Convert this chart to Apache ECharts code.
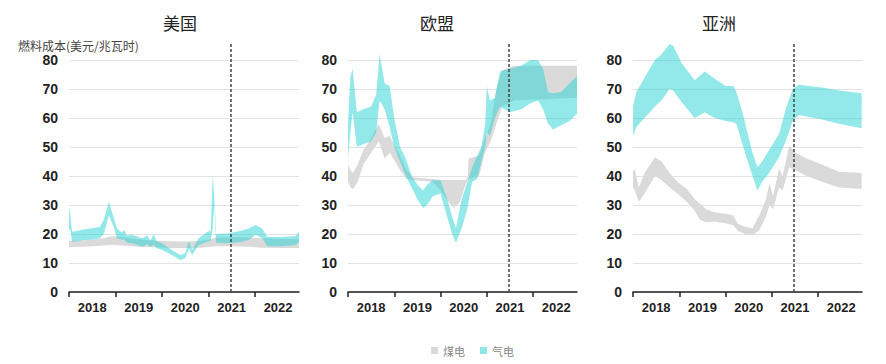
<!DOCTYPE html>
<html><head><meta charset="utf-8">
<script src="https://cdn.jsdelivr.net/npm/echarts@6/dist/echarts.min.js"></script>
<style>html,body{margin:0;padding:0;background:#fff}#c{width:886px;height:364px}</style>
</head><body><div id="c"></div>
<script>
// ---- tick labels ----
const years = ['2018', '2019', '2020', '2021', '2022'];
const yTicks = [0, 10, 20, 30, 40, 50, 60, 70, 80];
const panelTitles = ['美国', '欧盟', '亚洲'];
const seriesNames = ['煤电', '气电'];
const yAxisName = '燃料成本(美元/兆瓦时)';
const dividerMonth = 41.7; // months since Jan 2018

// ---- 美国 ----
const usCoalM  = [0, 3, 6, 9, 11, 14, 18, 22, 26, 30, 34, 36.5, 38, 42, 46, 50, 55, 59.4];
const usCoalLo = [15.5, 15.6, 15.8, 16, 16.2, 16, 15.6, 15.4, 15.2, 15.2, 15.3, 15.6, 15.8, 15.8, 15.6, 15.3, 15.2, 15.2];
const usCoalHi = [17.6, 17.8, 18, 18.6, 19.2, 19, 18.2, 17.8, 17.5, 17.4, 17.6, 18.2, 18.8, 19, 18.8, 18.5, 18.3, 18.3];
const usGasM  = [0, 0.3, 0.8, 2, 4, 6, 8, 9, 10.3, 11.5, 12.4, 13.7, 14.2, 15, 16.3, 18.9, 20.2, 21, 21.9, 22.6, 24, 26.6, 28.7, 30, 31, 31.8, 33.5, 35.7, 36.6, 37.1, 37.5, 38, 41.3, 44.7, 46.5, 48.2, 49.9, 51.2, 55, 58.5, 59.4];
const usGasLo = [21, 22, 17.3, 17.5, 17.9, 18, 18.5, 20, 26.5, 22.5, 18.5, 18, 18.2, 17, 16.8, 15.6, 16.5, 15.5, 16.3, 15.2, 14.5, 12.8, 11, 11.6, 15, 12.8, 16.2, 17.3, 17.8, 22, 30, 17, 16.8, 17.3, 18, 19.7, 18.5, 15.8, 15.8, 16.2, 17.2];
const usGasHi = [29.4, 27, 20.8, 21, 21.6, 22, 22.5, 25, 31.1, 25.9, 21.9, 20.5, 21.5, 19.5, 19.7, 18.5, 19.5, 17.8, 19.9, 17.5, 16.8, 14.5, 12.8, 13.4, 17.5, 14.5, 18.5, 20.8, 21, 40, 33, 20, 20.3, 21.2, 22, 23.1, 21.9, 19, 19, 19.3, 20.8];

// ---- 欧盟 ----
const euCoalM  = [0, 0.7, 1.3, 2.5, 4, 6, 8, 9.5, 10.8, 12.2, 13.5, 15.2, 17, 22, 24, 26, 27.5, 29, 30.5, 31, 31.3, 34, 35.5, 37, 38.5, 40, 43, 59.4];
const euCoalLo = [38, 36, 35.5, 38, 44, 48, 52, 46, 48, 45, 42, 39, 38.5, 38, 35, 31, 29, 31, 37, 38.5, 39, 40, 48, 52, 58, 64, 66, 67];
const euCoalHi = [44, 42, 41, 44, 49, 53, 58, 53, 54, 50, 47, 42, 39.5, 39, 38.6, 38.6, 38.6, 38.6, 38.6, 39.5, 46, 47, 53, 58, 70, 76.5, 78, 78];
const euGasM  = [0, 0.6, 1.2, 2.3, 4, 6, 7.3, 8.2, 9.5, 10.8, 12, 13.5, 15, 16.5, 18, 19.5, 20.5, 22, 24, 25.5, 27, 28, 29.5, 31, 32.2, 33.5, 34.6, 35.6, 36, 36.8, 38.1, 39.4, 42, 45, 47.2, 49.3, 50.6, 51.9, 53.2, 55.3, 57.5, 59.4];
const euGasLo = [46, 55, 62, 50, 51, 52, 55, 66, 63, 57, 50, 45, 40, 36, 32, 29, 30, 33, 34, 27, 20, 17, 22, 29, 38, 39, 45, 50, 55, 54, 60, 64, 62, 63, 65, 66, 63, 58, 56, 57.5, 59, 61.5];
const euGasHi = [58, 74, 77, 62, 63, 64, 68, 82, 72, 71, 60, 50, 46, 40, 37, 35, 37, 38.5, 38.5, 33, 26, 22, 32, 38, 43, 47, 50, 58, 71, 66, 67, 76, 77, 78, 80, 80, 77, 69, 68.5, 69, 72, 74.5];

// ---- 亚洲 ----
const asCoalM  = [0, 0.5, 1.5, 3, 5.7, 7.4, 9.5, 11.5, 14, 16, 17.3, 19, 21, 24, 26, 27.2, 29, 31, 32.8, 34.5, 35.4, 36.3, 37.9, 38.8, 40.5, 42.2, 45, 49, 53.4, 59.3];
const asCoalLo = [36, 35, 31, 34, 40, 38.5, 36, 34, 31, 28, 25, 24, 24.3, 23.7, 23, 21, 20, 19.5, 21.4, 26, 30, 28.5, 36, 35, 43, 42, 40, 38, 36, 35.5];
const asCoalHi = [42, 42, 36, 41, 46.5, 45, 41, 38, 35.5, 32, 30.5, 28.5, 27.5, 27, 26.5, 23.5, 22.5, 22, 26.5, 32, 37.5, 33, 42.6, 39.8, 50.5, 48, 46, 44, 41.5, 41];
const asGasM  = [0, 0.9, 3, 5.7, 7.4, 9.5, 10.4, 12.6, 16, 18.6, 21.2, 24, 26, 26.8, 28.4, 29.3, 31, 32.3, 33.5, 35.3, 37.9, 39.6, 41.4, 43, 49, 53.4, 59.3];
const asGasLo = [54, 57, 60, 64, 66, 70, 69.5, 65.5, 60, 62, 60, 59, 58.5, 58, 51, 47, 40, 35, 38, 41, 46.5, 52, 59, 61, 59.5, 58, 56.5];
const asGasHi = [64, 69, 74, 80, 82, 85.5, 85, 79, 73, 76, 73.5, 71, 71, 69, 62, 57, 48, 43, 45, 49, 54.5, 63, 70, 71.5, 70.5, 69.5, 68.5];

const panels = [
  {coal: [usCoalM, usCoalLo, usCoalHi], gas: [usGasM, usGasLo, usGasHi]},
  {coal: [euCoalM, euCoalLo, euCoalHi], gas: [euGasM, euGasLo, euGasHi]},
  {coal: [asCoalM, asCoalLo, asCoalHi], gas: [asGasM, asGasLo, asGasHi]}
];

const COAL = '#dadada';
const GAS = 'rgba(40,212,212,0.5)';
const GAS_SOLID = '#90e8e8';
const FONT = '"Liberation Sans", Arial, "Noto Sans CJK SC", sans-serif';
const CJK = '"Noto Sans CJK SC", sans-serif';

const layout = [
  {left: 69, width: 230, titleX: 180},
  {left: 348, width: 229, titleX: 437},
  {left: 633, width: 229, titleX: 719}
];
const Y_MAX = 80 + 18 / 2.9; // room above 80 for peaks and divider

function bandRender(m, lo, hi, fill) {
  return function (params, api) {
    if (params.dataIndex !== 0) return null;
    const pts = [];
    for (let k = 0; k < m.length; k++) pts.push(api.coord([m[k], hi[k]]));
    for (let k = m.length - 1; k >= 0; k--) pts.push(api.coord([m[k], lo[k]]));
    return {type: 'polygon', shape: {points: pts}, style: {fill: fill}, silent: true};
  };
}

const grid = [], xAxis = [], yAxis = [], series = [], graphic = [];
layout.forEach(function (L, i) {
  grid.push({left: L.left, width: L.width, top: 42, height: 250});
  xAxis.push({
    type: 'value', gridIndex: i, min: 0, max: 59.4,
    axisLine: {show: true, lineStyle: {color: '#222', width: 1.5}},
    axisTick: {show: true, customValues: [0, 12, 24, 36, 48], length: 5, lineStyle: {color: '#222', width: 1.5}},
    axisLabel: {customValues: [6, 18, 30, 42, 54], formatter: function (v) { return years[Math.round((v - 6) / 12)]; },
      fontFamily: FONT, fontWeight: 'bold', fontSize: 13, color: '#222', margin: 9},
    splitLine: {show: false}
  });
  yAxis.push({
    type: 'value', gridIndex: i, min: 0, max: Y_MAX, interval: 10,
    axisLine: {show: false},
    axisTick: {show: false, customValues: yTicks},
    axisLabel: {customValues: yTicks, fontFamily: FONT, fontWeight: 'bold', fontSize: 14, color: '#222', margin: 11},
    splitLine: {show: true, lineStyle: {color: '#e2e2e2', width: 1}}
  });
  const p = panels[i];
  series.push({
    type: 'custom', name: seriesNames[0], xAxisIndex: i, yAxisIndex: i,
    itemStyle: {color: COAL},
    data: p.coal[0].map(function (x, k) { return [x, p.coal[1][k], p.coal[2][k]]; }),
    encode: {x: 0, y: [1, 2]},
    renderItem: bandRender(p.coal[0], p.coal[1], p.coal[2], COAL)
  });
  series.push({
    type: 'custom', name: seriesNames[1], xAxisIndex: i, yAxisIndex: i,
    itemStyle: {color: GAS_SOLID},
    data: p.gas[0].map(function (x, k) { return [x, p.gas[1][k], p.gas[2][k]]; }),
    encode: {x: 0, y: [1, 2]},
    renderItem: bandRender(p.gas[0], p.gas[1], p.gas[2], GAS),
    markLine: {
      silent: true, symbol: ['none', 'none'], label: {show: false},
      lineStyle: {type: [3, 2], color: '#444', width: 1.5},
      data: [{xAxis: dividerMonth}]
    }
  });
  graphic.push({
    type: 'text', x: L.titleX, y: 22,
    style: {text: panelTitles[i], textAlign: 'center', textVerticalAlign: 'middle', fontSize: 17, fontFamily: CJK, fill: '#222'}
  });
});
graphic.push({
  type: 'text', x: 18, y: 45,
  style: {text: yAxisName, textAlign: 'left', textVerticalAlign: 'middle', fontSize: 12, fontFamily: CJK, fill: '#444'}
});

const chart = echarts.init(document.getElementById('c'), null, {renderer: 'svg'});
chart.setOption({
  animation: false,
  backgroundColor: '#fff',
  grid: grid, xAxis: xAxis, yAxis: yAxis, series: series, graphic: graphic,
  legend: {
    left: 426, top: 340, itemWidth: 7, itemHeight: 7, itemGap: 15, icon: 'rect',
    textStyle: {fontSize: 11, color: '#888', fontFamily: CJK},
    data: [{name: seriesNames[0], itemStyle: {color: COAL}}, {name: seriesNames[1], itemStyle: {color: GAS_SOLID}}]
  }
});
</script></body></html>
